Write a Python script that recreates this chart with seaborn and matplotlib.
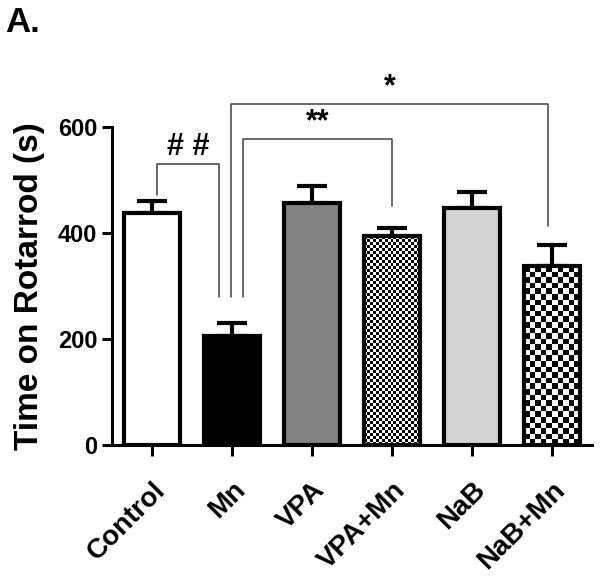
# rotarod bar chart - panel A
# mean time on rotarod per treatment group, upper SEM only
# checker fills drawn as clipped images since mpl has no checker hatch

import numpy as np
import matplotlib
matplotlib.use('Agg')
import matplotlib.pyplot as plt
import seaborn as sns

sns.set_style('ticks')
plt.rcParams['font.family'] = ['Liberation Sans', 'DejaVu Sans']
plt.rcParams['font.weight'] = 'bold'
plt.rcParams.update({'text.color': 'black', 'axes.labelcolor': 'black',
                     'xtick.color': 'black', 'ytick.color': 'black'})

groups = ['Control', 'Mn', 'VPA', 'VPA+Mn', 'NaB', 'NaB+Mn']
means = [438, 205, 456, 394, 447, 337]
sem = [22, 25, 32, 15, 30, 40]
fills = ['#ffffff', '#000000', '#828282', 'none', '#d4d4d4', 'none']
checker_px = {3: 3.0, 5: 5.5}   # bar index -> checker square size in px

# significance brackets: (left x, right x, top y, left leg end, right leg end, label)
brackets = [
    (0.06, 0.84, 530, 472, 279, '# #'),
    (1.14, 3.00, 577, 279, 451, '**'),
    (0.99, 4.95, 643, 279, 413, '*'),
]

fig = plt.figure(figsize=(6, 5.79), dpi=100)
ax = fig.add_axes([0.1867, 0.2314, 0.80, 0.5492])

sns.barplot(x=groups, y=means, hue=groups, palette=fills, legend=False,
            width=0.7, edgecolor='black', linewidth=3.0, errorbar=None, ax=ax)
ax.set_xlim(-0.5, 5.5)
ax.set_ylim(0, 600)

# upper error bars only
xs = np.arange(len(groups))
ax.errorbar(xs, means, yerr=[np.zeros(len(sem)), sem], fmt='none',
            ecolor='black', elinewidth=3.0, capsize=11, capthick=3.0, zorder=0.8)

# checker patterns
px_x = ax.transData.transform((1, 0))[0] - ax.transData.transform((0, 0))[0]
px_y = ax.transData.transform((0, 1))[1] - ax.transData.transform((0, 0))[1]
for i, sq in checker_px.items():
    bar = ax.patches[i]
    x0, y0 = bar.get_x(), bar.get_y()
    w, h = bar.get_width(), bar.get_height()
    ncol = max(1, int(round(w * px_x / sq)))
    nrow = max(1, int(round(h * px_y / sq)))
    grid = (np.add.outer(np.arange(nrow), np.arange(ncol)) % 2).astype(float)
    im = ax.imshow(grid, cmap='gray', vmin=0, vmax=1, interpolation='nearest',
                   extent=(x0, x0 + w, y0, y0 + h), aspect='auto', zorder=0.9)
    im.set_clip_path(bar)
    bar.set_facecolor('none')
ax.set_xlim(-0.5, 5.5)
ax.set_ylim(0, 600)

for x1, x2, top, b1, b2, label in brackets:
    ax.plot([x1, x1, x2, x2], [b1, top, top, b2], color='#404040', lw=1.1,
            clip_on=False, zorder=3)
    ax.text((x1 + x2) / 2, top + 32, label, ha='center', va='center',
            fontsize=22, fontweight='bold', clip_on=False)

ax.set_yticks([0, 200, 400, 600])
ax.tick_params(axis='y', labelsize=17, width=2.2, length=7.5, pad=3)
ax.tick_params(axis='x', labelsize=20, width=2.2, length=8, pad=15)
for lab in ax.get_xticklabels():
    lab.set_rotation(45)
    lab.set_ha('right')
    lab.set_rotation_mode('anchor')
    lab.set_fontweight('bold')
for lab in ax.get_yticklabels():
    lab.set_fontweight('bold')

sns.despine(ax=ax)
for side in ['left', 'bottom']:
    ax.spines[side].set_linewidth(2.2)
    ax.spines[side].set_color('black')

ax.set_ylabel('Time on Rotarrod (s)', fontsize=24, fontweight='bold')
ax.yaxis.set_label_coords(-0.14, 0.5)

fig.text(0.008, 0.99, 'A.', fontsize=25, fontweight='bold', va='top', ha='left')

fig.savefig('out.png', dpi=100)
